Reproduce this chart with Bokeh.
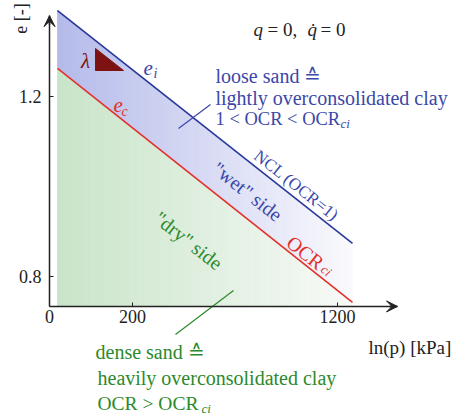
import numpy as np
from bokeh.plotting import figure
from bokeh.models import Range1d, FixedTicker, Arrow, VeeHead
from bokeh.core.properties import value
from bokeh.embed import file_html
from bokeh.resources import INLINE

# ---------------- data (schematic e - ln(p) diagram) ----------------
lnp_line = [8, 303]            # schematic ln(p) positions of the line ends
e_ncl = [1.3915, 0.8728]       # NCL (OCR = 1), e_i
e_ci = [1.2624, 0.7414]        # OCR_ci line, e_c
x_ticks = [0, 83, 288]
x_tick_labels = ["0", "200", "1200"]
y_ticks = [0.8, 1.2]
y_tick_labels = ["0.8", "1.2"]
lnp_axis_max = 348
e_axis_min = 0.7325
e_axis_max = 1.380
lam_tri_x = [46, 46, 74]
lam_tri_e = [1.3069, 1.2579, 1.2579]

# ---------------- layout helpers ----------------
PX_E = 449.0
def X(px):
    return px - 49
def Y(py):
    return 1.2 + (96 - py) / PX_E

SERIF = "'Liberation Serif', 'DejaVu Serif', serif"
BLUE_T = "#3b47a9"
BLUE_L = "#27389a"
RED = "#e2302b"
GREEN = "#2b8a2b"
DARKRED = "#7d1212"
INK = "#222222"

p = figure(width=453, height=418, x_range=Range1d(X(0), X(453)),
           y_range=Range1d(Y(418), Y(0)), output_backend="svg",
           toolbar_location=None, min_border=0, outline_line_color=None)
p.grid.visible = False

# ---------------- gradient fills ----------------
def mix(c0, c1, t):
    return "#%02x%02x%02x" % tuple(int(round(a + (b - a) * t)) for a, b in zip(c0, c1))

N = 90
edges = np.linspace(lnp_line[0], lnp_line[1], N + 1)
top = np.interp(edges, lnp_line, e_ncl)
mid = np.interp(edges, lnp_line, e_ci)
bxs, bys, bc, gxs, gys, gc = [], [], [], [], [], []
for i in range(N):
    xa, xb = edges[i], edges[i + 1]
    t = (i + 0.5) / N
    bxs.append([xa, xb, xb, xa]); bys.append([top[i], top[i + 1], mid[i + 1], mid[i]])
    bc.append(mix((180, 186, 234), (250, 250, 253), t))
    gxs.append([xa, xb, xb, xa]); gys.append([mid[i], mid[i + 1], e_axis_min, e_axis_min])
    gc.append(mix((200, 228, 200), (248, 250, 248), t))
p.patches(bxs, bys, fill_color=bc, line_color=bc, line_width=0.8)
p.patches(gxs, gys, fill_color=gc, line_color=gc, line_width=0.8)

# ---------------- lines ----------------
p.line(lnp_line, e_ncl, line_color=BLUE_L, line_width=1.6)
p.line(lnp_line, e_ci, line_color=RED, line_width=1.6)
p.patch(lam_tri_x, lam_tri_e, fill_color=DARKRED, line_color=DARKRED)

# ---------------- axes ----------------
xa = p.xaxis[0]
xa.fixed_location = e_axis_min
xa.bounds = (0, lnp_axis_max)
xa.ticker = FixedTicker(ticks=x_ticks)
xa.major_label_overrides = dict(zip(x_ticks, x_tick_labels))
ya = p.yaxis[0]
ya.fixed_location = 0
ya.bounds = (e_axis_min, e_axis_max)
ya.ticker = FixedTicker(ticks=y_ticks)
ya.major_label_overrides = dict(zip(y_ticks, y_tick_labels))
for ax in (xa, ya):
    ax.minor_tick_line_color = None
    ax.major_tick_in = 4
    ax.major_tick_out = 0
    ax.axis_line_color = INK
    ax.axis_line_width = 1.5
    ax.major_tick_line_color = INK
    ax.major_label_text_font = SERIF
    ax.major_label_text_font_size = "18px"
    ax.major_label_text_color = INK
xa.major_label_standoff = 4
ya.major_label_standoff = 8

p.add_layout(Arrow(end=VeeHead(size=11, fill_color=INK, line_color=INK),
                   x_start=lnp_axis_max - 8, y_start=e_axis_min,
                   x_end=lnp_axis_max, y_end=e_axis_min, line_color=INK, line_width=1.5))
p.add_layout(Arrow(end=VeeHead(size=11, fill_color=INK, line_color=INK),
                   x_start=0, y_start=e_axis_max - 0.02,
                   x_end=0, y_end=e_axis_max, line_color=INK, line_width=1.5))

# ---------------- texts ----------------
def txt(px, py, s, color=INK, size="20px", align="left", angle=0.0, style="normal"):
    p.text(x=[X(px)], y=[Y(py)], text=[s], text_font=value(SERIF), text_font_size=size,
           text_color=color, text_align=align, text_baseline="middle", angle=angle,
           text_font_style=style)

ANG = -0.670
txt(20, 18, "e [-]", size="18px", align="center", angle=np.pi / 2)
txt(368, 347, "ln(p) [kPa]", size="19px")

txt(253, 29, "q", size="19px", style="italic")
txt(267, 29, "= 0,", size="19px")
txt(307, 29, "q\u0307", size="19px", style="italic")
txt(320, 29, "= 0", size="19px")

txt(85, 60, "\u03bb", color=DARKRED, size="21px", align="center", style="italic")
txt(143, 67, "e", color=BLUE_T, size="21px", style="italic")
txt(153, 73, "i", color=BLUE_T, size="14px", style="italic")
txt(113, 104, "e", color=RED, size="21px", style="italic")
txt(121, 111, "c", color=RED, size="14px", style="italic")

txt(215, 75, "loose sand \u2259", color=BLUE_T)
txt(215, 97, "lightly overconsolidated clay", color=BLUE_T)
txt(215, 118, "1 < OCR < OCR", color=BLUE_T, size="18.5px")
txt(340, 123, "ci", color=BLUE_T, size="13px", style="italic")
p.line([X(178), X(210)], [Y(128), Y(104)], line_color=BLUE_T, line_width=1.2)

txt(296, 185, "NCL (OCR=1)", color=BLUE_T, size="17px", align="center", angle=ANG)
txt(247, 191, "\"wet\" side", color=BLUE_T, size="20px", align="center", angle=ANG)
txt(305, 252, "OCR", color=RED, size="20px", align="center", angle=ANG)
txt(326, 270, "ci", color=RED, size="13px", align="center", angle=ANG, style="italic")
txt(188, 240, "\"dry\" side", color=GREEN, size="20px", align="center", angle=ANG)

p.line([X(233), X(175)], [Y(290), Y(334)], line_color=GREEN, line_width=1.2)
txt(95, 351, "dense sand \u2259", color=GREEN)
txt(97, 377, "heavily overconsolidated clay", color=GREEN)
txt(97, 403, "OCR > OCR", color=GREEN, size="19.5px")
txt(201, 408, "ci", color=GREEN, size="13px", style="italic")

open("out.html", "w").write(file_html(p, INLINE))
